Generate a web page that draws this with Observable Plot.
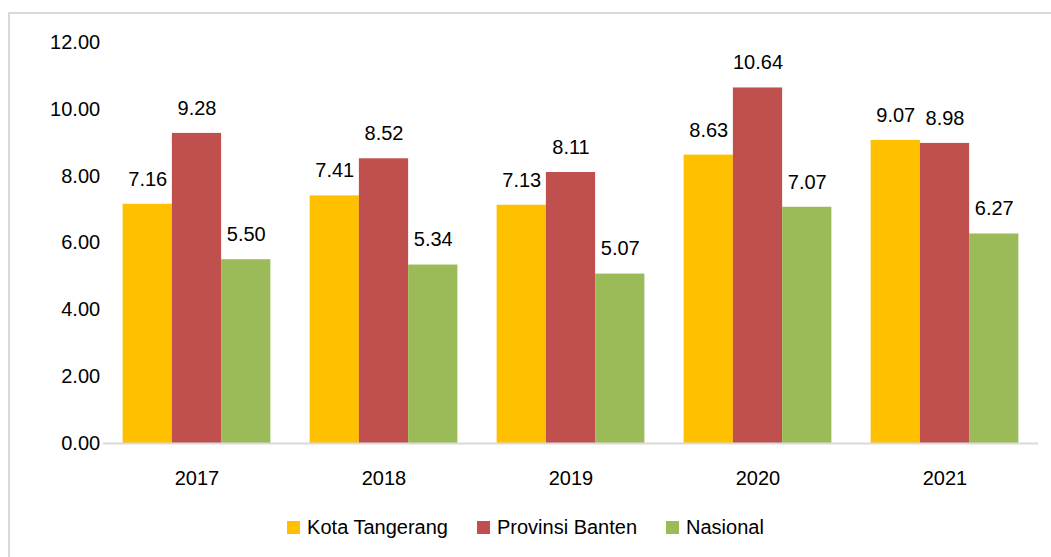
<!DOCTYPE html>
<html>
<head>
<meta charset="utf-8">
<script src="https://cdn.jsdelivr.net/npm/d3@7"></script>
<script src="https://cdn.jsdelivr.net/npm/@observablehq/plot@0.6"></script>
<style>
  html, body { margin: 0; padding: 0; background: #fff; overflow: hidden; width: 1051px; height: 557px; }
  #frame { position: absolute; left: 8px; top: 12px; width: 2000px; height: 2000px;
           border-top: 2px solid #d9d9d9; border-left: 2px solid #d9d9d9; }
  #chart { position: absolute; left: 0; top: 0; }
  #legend { position: absolute; left: 0; top: 500px; width: 1051px; height: 54px;
            display: flex; justify-content: center; align-items: center;
            font-family: "Liberation Sans", Arial, sans-serif; font-size: 20px; color: #000; }
  .item { display: flex; align-items: center; margin: 0 14.5px; }
  .sw { width: 13px; height: 13px; margin-right: 7px; }
</style>
</head>
<body>
<div id="frame"></div>
<div id="chart"></div>
<div id="legend"></div>
<script>
const years = ["2017", "2018", "2019", "2020", "2021"];
const series = ["Kota Tangerang", "Provinsi Banten", "Nasional"];
const kotaTangerang = [7.16, 7.41, 7.13, 8.63, 9.07];
const provinsiBanten = [9.28, 8.52, 8.11, 10.64, 8.98];
const nasional = [5.50, 5.34, 5.07, 7.07, 6.27];
const yTicks = [0, 2, 4, 6, 8, 10, 12];
const colors = ["#FFC000", "#C0504D", "#9BBB59"];

const seriesValues = [kotaTangerang, provinsiBanten, nasional];
const table = [];
years.forEach((yr, i) => {
  series.forEach((s, j) => table.push({year: yr, series: s, value: seriesValues[j][i]}));
});

const chart = Plot.plot({
  width: 1051,
  height: 500,
  marginLeft: 103,
  marginRight: 13,
  marginTop: 42,
  marginBottom: 57,
  style: {fontFamily: "'Liberation Sans', Arial, sans-serif", fontSize: "20px", color: "#000", background: "transparent"},
  fx: {domain: years, paddingInner: 0.21, paddingOuter: 0.105, round: false, label: null, axis: "bottom", tickSize: 0, tickPadding: 27},
  x: {domain: series, axis: null, padding: 0, round: false},
  y: {domain: [0, 12], ticks: yTicks, tickFormat: d3.format(".2f"), tickSize: 0, tickPadding: 23, label: null},
  color: {domain: series, range: colors},
  marks: [
    Plot.barY(table, {fx: "year", x: "series", y: "value", fill: "series"}),
    Plot.ruleY(years.map(yr => ({year: yr, v: 0})), {fx: "year", y: "v", stroke: "#d9d9d9", strokeWidth: 2, insetLeft: -19.7, insetRight: -19.7}),
    Plot.text(table, {fx: "year", x: "series", y: "value", text: d => d.value.toFixed(2), dy: -25, fontSize: 20, fill: "#000"})
  ]
});
document.getElementById("chart").appendChild(chart);

const legend = document.getElementById("legend");
series.forEach((s, i) => {
  const item = document.createElement("div");
  item.className = "item";
  const sw = document.createElement("span");
  sw.className = "sw";
  sw.style.background = colors[i];
  const label = document.createElement("span");
  label.textContent = s;
  item.appendChild(sw);
  item.appendChild(label);
  legend.appendChild(item);
});
</script>
</body>
</html>
